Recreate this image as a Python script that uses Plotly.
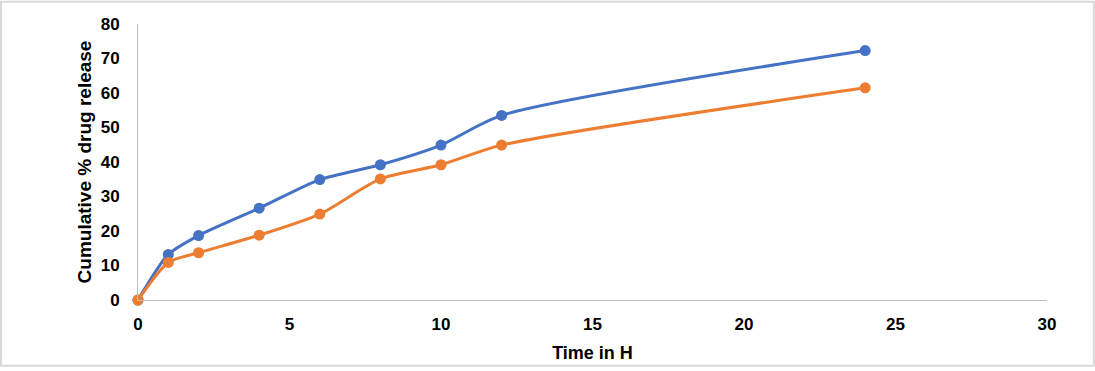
import plotly.graph_objects as go

time_h = [0, 1, 2, 4, 6, 8, 10, 12, 24]
series_a = [0, 13.2, 18.7, 26.6, 34.9, 39.2, 44.9, 53.5, 72.3]
series_b = [0, 10.9, 13.7, 18.8, 24.9, 35.1, 39.2, 44.9, 61.5]
color_a = "#4472C4"
color_b = "#ED7D31"

W, H = 1095, 371
L, R, T, B = 138, 48.3, 23.5, 68
pw = W - L - R
ph = H - T - B

fig = go.Figure()
for ys, c in [(series_a, color_a), (series_b, color_b)]:
    fig.add_trace(go.Scatter(
        x=time_h, y=ys, mode="lines+markers",
        line=dict(color=c, width=3, shape="spline", smoothing=0.7),
        marker=dict(color=c, size=11),
        cliponaxis=False, hoverinfo="skip", showlegend=False,
    ))

fam = "Liberation Sans, Arial, sans-serif"

fig.update_layout(
    width=W, height=H,
    margin=dict(l=L, r=R, t=T, b=B, pad=0),
    paper_bgcolor="white", plot_bgcolor="white",
    font=dict(family=fam, size=17, color="#000000"),
    xaxis=dict(
        range=[0, 30], dtick=5, tick0=0, showgrid=False, zeroline=False,
        showline=True, linecolor="#BFBFBF", linewidth=1,
        ticks="", ticklabelstandoff=9,
        tickfont=dict(family=fam, size=17, color="#000", weight="bold"),
        title=dict(text="<b>Time in H</b>", standoff=12,
                   font=dict(family=fam, size=18, color="#000")),
    ),
    yaxis=dict(
        range=[0, 80], dtick=10, tick0=0, showgrid=False, zeroline=False,
        showline=True, linecolor="#BFBFBF", linewidth=1,
        ticks="", ticklabelstandoff=14,
        tickfont=dict(family=fam, size=17, color="#000", weight="bold"),
        title=dict(text="<b>Cumulative % drug release</b>", standoff=4,
                   font=dict(family=fam, size=19, color="#000")),
    ),
    hovermode=False,
)

# chart border
x0 = (1 - L) / pw
x1 = (W - 1.5 - L) / pw
y1 = (H - B - 1) / ph
y0 = (H - B - (H - 1.5)) / ph
fig.add_shape(type="rect", xref="paper", yref="paper", x0=x0, x1=x1, y0=y0, y1=y1,
              line=dict(color="#D9D9D9", width=2), fillcolor="rgba(0,0,0,0)", layer="below")

fig.write_html("out.html", config={"displayModeBar": False},
               post_script="document.body.style.margin='0';document.body.style.overflow='hidden';")
